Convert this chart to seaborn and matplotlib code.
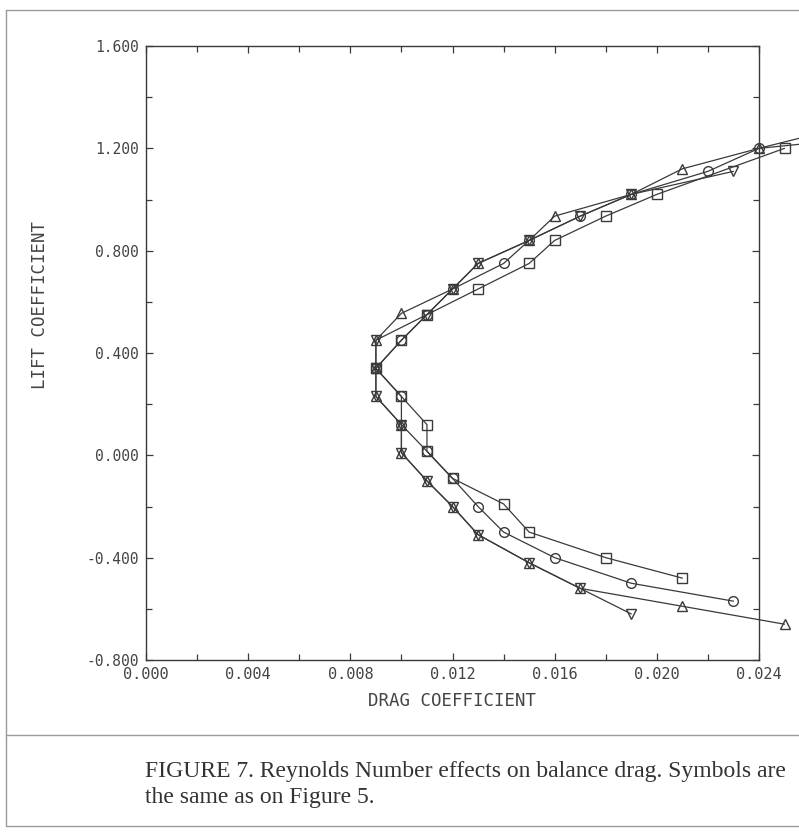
import matplotlib
matplotlib.use("Agg")
import matplotlib.pyplot as plt
from matplotlib.lines import Line2D
from matplotlib.ticker import MultipleLocator, FormatStrFormatter
import seaborn as sns
import pandas as pd

# Balance drag polars at several Reynolds numbers (drag coefficient, lift coefficient)
cd_square = [0.025, 0.020, 0.018, 0.016, 0.015, 0.013, 0.011, 0.010, 0.009, 0.010, 0.011,
             0.011, 0.012, 0.014, 0.015, 0.018, 0.021]
cl_square = [1.20, 1.02, 0.935, 0.84, 0.75, 0.65, 0.55, 0.45, 0.34, 0.23, 0.12,
             0.016, -0.09, -0.19, -0.30, -0.40, -0.48]

cd_circle = [0.026, 0.024, 0.022, 0.019, 0.017, 0.015, 0.014, 0.012, 0.011, 0.010, 0.009,
             0.010, 0.010, 0.011, 0.012, 0.013, 0.014, 0.016, 0.019, 0.023]
cl_circle = [1.22, 1.20, 1.11, 1.02, 0.935, 0.84, 0.75, 0.65, 0.55, 0.45, 0.34,
             0.23, 0.12, 0.016, -0.09, -0.20, -0.30, -0.40, -0.50, -0.57]

cd_tri_up = [0.026, 0.024, 0.021, 0.019, 0.016, 0.015, 0.013, 0.012, 0.010, 0.009, 0.009,
             0.009, 0.010, 0.010, 0.011, 0.012, 0.013, 0.015, 0.017, 0.021, 0.025]
cl_tri_up = [1.25, 1.20, 1.12, 1.02, 0.935, 0.84, 0.75, 0.65, 0.555, 0.45, 0.34,
             0.23, 0.12, 0.01, -0.10, -0.20, -0.31, -0.42, -0.52, -0.59, -0.66]

cd_tri_down = [0.023, 0.019, 0.017, 0.015, 0.013, 0.012, 0.011, 0.009, 0.009, 0.009,
               0.010, 0.010, 0.011, 0.012, 0.013, 0.015, 0.017, 0.019]
cl_tri_down = [1.11, 1.02, 0.935, 0.84, 0.75, 0.65, 0.55, 0.45, 0.34, 0.23,
               0.12, 0.01, -0.10, -0.20, -0.31, -0.42, -0.52, -0.62]

series = [
    ("square", cd_square, cl_square, "s"),
    ("circle", cd_circle, cl_circle, "o"),
    ("tri_up", cd_tri_up, cl_tri_up, "^"),
    ("tri_down", cd_tri_down, cl_tri_down, "v"),
]

sns.set_theme(style="white")
plt.rcParams["font.family"] = ["DejaVu Sans Mono", "DejaVu Sans"]

W, H = 799, 833
fig = plt.figure(figsize=(W / 100, H / 100), dpi=100)
ax = fig.add_axes([146 / W, 1 - 660 / H, 613 / W, 614 / H])

ink = "#3a3a3a"
for name, xs, ys, mk in series:
    df = pd.DataFrame({"cd": xs, "cl": ys})
    sns.lineplot(data=df, x="cd", y="cl", sort=False, estimator=None, ax=ax,
                 color=ink, lw=0.9, marker=mk, markersize=7,
                 markerfacecolor="none", markeredgecolor=ink, markeredgewidth=1.0,
                 clip_on=False)

ax.set_xlim(0.0, 0.024)
ax.set_ylim(-0.8, 1.6)
ax.xaxis.set_major_locator(MultipleLocator(0.004))
ax.xaxis.set_minor_locator(MultipleLocator(0.002))
ax.yaxis.set_major_locator(MultipleLocator(0.4))
ax.yaxis.set_minor_locator(MultipleLocator(0.2))
ax.xaxis.set_major_formatter(FormatStrFormatter("%.3f"))
ax.yaxis.set_major_formatter(FormatStrFormatter("%.3f"))

for s in ax.spines.values():
    s.set_color(ink)
    s.set_linewidth(1.0)

ax.tick_params(which="both", direction="in", top=True, right=True,
               bottom=True, left=True, color=ink, width=0.9)
ax.tick_params(which="major", length=5, labelcolor="#444444")
ax.tick_params(axis="x", which="major", labelsize=11, pad=5)
ax.tick_params(axis="y", which="major", labelsize=10.5, pad=5)
ax.tick_params(which="minor", length=4)

ax.set_xlabel("DRAG COEFFICIENT", fontsize=12.5, color="#444444")
ax.xaxis.set_label_coords(0.499, -0.052)
ax.set_ylabel("LIFT COEFFICIENT", fontsize=12.5, color="#444444")
ax.yaxis.set_label_coords(-0.158, 0.578)

# Frame lines around the figure and above the caption
frame = "#9a9a9a"
for (x0, y0, x1, y1) in [(6, 10, 799, 10), (6, 10, 6, 826), (6, 735, 799, 735), (6, 826, 799, 826)]:
    fig.add_artist(Line2D([x0 / W, x1 / W], [1 - y0 / H, 1 - y1 / H],
                          transform=fig.transFigure, color=frame, lw=1.0))

cap_font = ["Liberation Serif", "DejaVu Serif"]
fig.text(145 / W, 1 - 771 / H,
         "FIGURE 7. Reynolds Number effects on balance drag. Symbols are",
         family=cap_font, fontsize=17, color="#333333", va="center", ha="left")
fig.text(145 / W, 1 - 798 / H, "the same as on Figure 5.",
         family=cap_font, fontsize=17, color="#333333", va="center", ha="left")

fig.savefig("out.png", dpi=100, facecolor="white")
